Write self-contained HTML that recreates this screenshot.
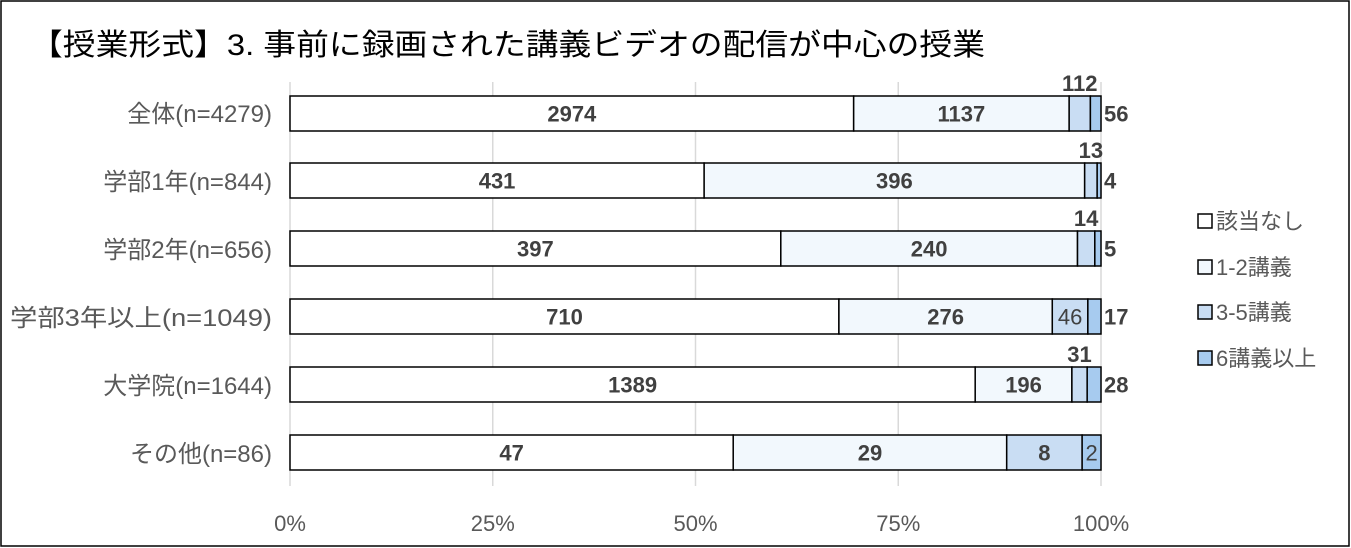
<!DOCTYPE html><html><head><meta charset="utf-8"><style>body{margin:0;background:#fff}svg{display:block;font-family:"Liberation Sans","Noto Sans CJK JP",sans-serif}</style></head><body>
<svg width="1351" height="548" viewBox="0 0 1351 548">
<rect x="1" y="1" width="1348" height="545" fill="#fff" stroke="#000" stroke-width="1.5"/>
<text x="30" y="55" font-size="30" fill="#000" textLength="955" lengthAdjust="spacingAndGlyphs">【授業形式】3. 事前に録画された講義ビデオの配信が中心の授業</text>
<g stroke="#d9d9d9" stroke-width="1.5">
<line x1="290" y1="82" x2="290" y2="486"/><line x1="492.75" y1="82" x2="492.75" y2="486"/><line x1="695.5" y1="82" x2="695.5" y2="486"/><line x1="898.25" y1="82" x2="898.25" y2="486"/><line x1="1101" y1="82" x2="1101" y2="486"/>
</g>
<g font-size="22" fill="#595959" text-anchor="middle">
<text x="290" y="531">0%</text><text x="492.75" y="531">25%</text><text x="695.5" y="531">50%</text><text x="898.25" y="531">75%</text><text x="1101" y="531">100%</text>
</g>
<g font-size="24" fill="#595959" text-anchor="end">
<text x="272" y="122">全体(n=4279)</text><text x="272" y="190">学部1年(n=844)</text><text x="272" y="258">学部2年(n=656)</text><text x="272" y="326" textLength="262" lengthAdjust="spacingAndGlyphs">学部3年以上(n=1049)</text><text x="272" y="394">大学院(n=1644)</text><text x="272" y="462">その他(n=86)</text>
</g>
<g id="bars" stroke="#000" stroke-width="1.5"></g>
<g id="labs" font-size="22" fill="#404040" font-weight="bold" text-anchor="middle"></g>
<g font-size="22" fill="#595959">
<rect x="1198" y="214" width="14" height="14" fill="#fff" stroke="#000" stroke-width="1.5"/><text x="1216" y="229">該当なし</text>
<rect x="1198" y="260" width="14" height="14" fill="#f2f8fd" stroke="#000" stroke-width="1.5"/><text x="1216" y="275">1-2講義</text>
<rect x="1198" y="305" width="14" height="14" fill="#c9ddf3" stroke="#000" stroke-width="1.5"/><text x="1216" y="320">3-5講義</text>
<rect x="1198" y="351" width="14" height="14" fill="#a7cbef" stroke="#000" stroke-width="1.5"/><text x="1216" y="366">6講義以上</text>
</g>
<script>
var d=[[2974,1137,112,56],[431,396,13,4],[397,240,14,5],[710,276,46,17],[1389,196,31,28],[47,29,8,2]];
var c=["#fff","#f2f8fd","#c9ddf3","#a7cbef"];
var ys=[96,163,231,299,367,435];
var b=document.getElementById("bars"),l=document.getElementById("labs"),ns="http://www.w3.org/2000/svg";
function T(x,y,s,a,w){var t=document.createElementNS(ns,"text");t.setAttribute("x",x);t.setAttribute("y",y);t.textContent=s;if(a)t.setAttribute("text-anchor",a);if(w)t.setAttribute("font-weight",w);l.appendChild(t);}
d.forEach(function(r,i){var s=r.reduce(function(a,b){return a+b}),x=290,y=ys[i],h=35;
r.forEach(function(v,j){var w=v/s*811;var e=document.createElementNS(ns,"rect");e.setAttribute("x",x);e.setAttribute("y",y);e.setAttribute("width",w);e.setAttribute("height",h);e.setAttribute("fill",c[j]);b.appendChild(e);
var cy=y+h/2+8;
if(w>30){T(x+w/2,cy,v,null,(w>60?"bold":"normal"));}
else if(j==2&&w>25){T(x+w/2,cy,v,null,"normal");}
else if(j==2){T(x+w/2,y-5,v);}
else if(j==3&&w>8&&i==5){T(x+w/2,cy,v,null,"normal");}
else {T(1104,cy,v,"start");}
x+=w;});});
</script>
</svg></body></html>
